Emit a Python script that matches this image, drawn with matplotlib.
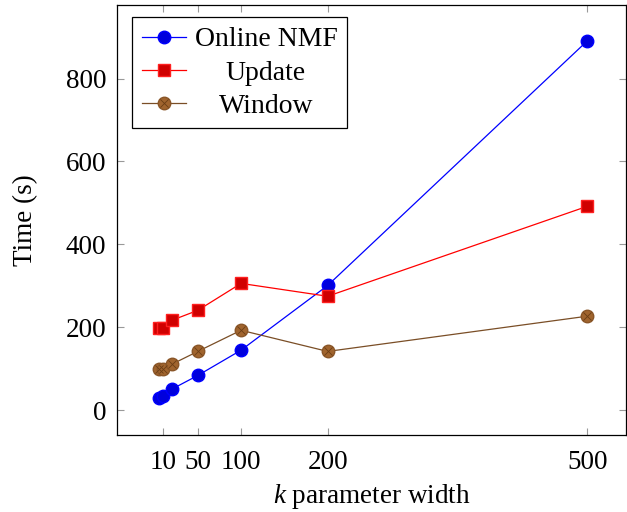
import matplotlib
matplotlib.use("Agg")
import matplotlib.pyplot as plt
from matplotlib.legend_handler import HandlerTuple

plt.rcParams['font.family'] = ['Liberation Serif', 'DejaVu Serif']
plt.rcParams['mathtext.fontset'] = 'custom'
plt.rcParams['mathtext.it'] = 'Liberation Serif:italic'
plt.rcParams['mathtext.rm'] = 'Liberation Serif'

# data
k = [5, 10, 20, 50, 100, 200, 500]
online_nmf = [29, 34, 51, 84, 145, 301, 891]
update = [198, 199, 217, 241, 306, 275, 492]
window = [99, 100, 111, 142, 193, 142, 227]
xticks = [10, 50, 100, 200, 500]
yticks = [0, 200, 400, 600, 800]

fs = 19.5
fig = plt.figure(figsize=(6.27, 5.12), dpi=100)
ax = fig.add_axes([0.187, 0.150, 0.812, 0.840])

ms = 9
l1, = ax.plot(k, online_nmf, color='#0000ff', lw=0.9, marker='o', ms=ms,
              markerfacecolor='#0000dd', markeredgecolor='#0000ff')
l2, = ax.plot(k, update, color='#ff0000', lw=0.9, marker='s', ms=ms,
              markerfacecolor='#d00000', markeredgecolor='#ff2020')
l3, = ax.plot(k, window, color='#7a4e26', lw=0.9, marker='o', ms=ms,
              markerfacecolor='#a0642e', markeredgecolor='#8a5628')
l3x, = ax.plot(k, window, ls='none', marker='x', ms=ms * 0.6, mew=0.6,
               color='#6a3d14')

ax.set_xlim(-43, 545)
ax.set_ylim(-60, 977)
ax.set_xticks(xticks)
ax.set_yticks(yticks)
ax.tick_params(direction='in', length=5, color='#999999', labelsize=fs,
               top=True, right=True)
ax.tick_params(axis='x', pad=11)
ax.tick_params(axis='y', pad=8)
for s in ax.spines.values():
    s.set_linewidth(0.9)

ax.set_xlabel('$k$ parameter width', fontsize=fs, labelpad=5)
ax.set_ylabel('Time (s)', fontsize=fs, labelpad=20)

leg = ax.legend([l1, l2, (l3, l3x)], ['Online NMF', 'Update', 'Window'],
                handler_map={tuple: HandlerTuple(ndivide=1, pad=0)},
                loc='upper left', bbox_to_anchor=(0.029, 0.972), fontsize=20,
                fancybox=False, edgecolor='black', framealpha=1,
                handlelength=1.6, handletextpad=0.3, labelspacing=0.28,
                borderaxespad=0, borderpad=0.35)
leg.get_frame().set_linewidth(0.9)

# center legend entries like pgfplots
fig.canvas.draw()
r = fig.canvas.get_renderer()
texts = leg.get_texts()
widths = [t.get_window_extent(r).width for t in texts]
wmax = max(widths)
for t, w in zip(texts, widths):
    t.set_x((wmax - w) / 2)

fig.savefig('out.png', dpi=100)
